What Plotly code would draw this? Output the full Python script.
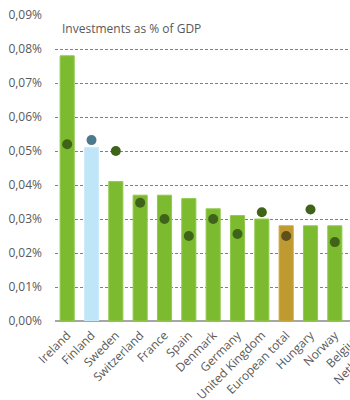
import plotly.graph_objects as go

categories = ["Ireland", "Finland", "Sweden", "Switzerland", "France", "Spain",
              "Denmark", "Germany", "United Kingdom", "European total", "Hungary",
              "Norway", "Belgium", "Netherlands", "Portugal"]
bar_values = [0.078, 0.051, 0.041, 0.037, 0.037, 0.036, 0.033, 0.031, 0.030,
              0.028, 0.028, 0.028, 0.028, 0.027, 0.026]
dot_values = [0.052, 0.0532, 0.050, 0.0348, 0.030, 0.025, 0.030, 0.0256, 0.032,
              0.025, 0.0328, 0.0232, 0.024, 0.022, 0.020]
y_ticks = [0.00, 0.01, 0.02, 0.03, 0.04, 0.05, 0.06, 0.07, 0.08, 0.09]
y_tick_labels = ["0,00%", "0,01%", "0,02%", "0,03%", "0,04%", "0,05%",
                 "0,06%", "0,07%", "0,08%", "0,09%"]
title_text = "Investments as % of GDP"

GREEN = "#7cba2f"
bar_colors = [GREEN] * len(categories)
bar_colors[1] = "#bfe6f8"
bar_colors[9] = "#bf9a30"
line_colors = ["#92c94f"] * len(categories)
line_colors[1] = "#cdebf9"
line_colors[9] = "#c9a845"
dot_colors = ["#3f6419"] * len(categories)
dot_colors[1] = "#4b7a8e"
dot_colors[9] = "#5e4f1d"

fig = go.Figure()
fig.add_trace(go.Bar(
    x=categories, y=bar_values,
    marker=dict(color=bar_colors, line=dict(color=line_colors, width=1)),
    hoverinfo="skip",
))
fig.add_trace(go.Scatter(
    x=categories, y=dot_values, mode="markers",
    marker=dict(color=dot_colors, size=10, line=dict(width=0)),
    hoverinfo="skip",
))

fig.add_annotation(
    text=title_text, xref="paper", yref="paper", x=0.013, y=0.955,
    xanchor="left", yanchor="middle", showarrow=False,
    font=dict(family="Open Sans", size=12, color="#595959"),
)

fig.update_layout(
    width=420, height=400,
    margin=dict(l=55, r=0, t=15, b=79),
    paper_bgcolor="white", plot_bgcolor="white",
    showlegend=False, bargap=0.42,
    font=dict(family="Open Sans", size=12, color="#595959"),
    hovermode=False,
)
fig.update_xaxes(
    tickangle=-45, showgrid=False, showline=False, ticks="",
    ticklabelstandoff=4, automargin=False,
    tickfont=dict(family="Open Sans", size=12, color="#595959"),
    range=[-0.5, len(categories) - 0.5],
)
fig.update_yaxes(
    range=[0, 0.09], tickmode="array", tickvals=y_ticks, ticktext=y_tick_labels,
    showgrid=True, gridcolor="#808080", griddash="3px,2px", gridwidth=1,
    zeroline=True, zerolinecolor="#a6a6a6", zerolinewidth=2,
    showline=False, ticks="", ticklabelstandoff=12, automargin=False,
    tickfont=dict(family="Open Sans", size=12, color="#595959"),
)

fig.write_html(
    "out.html",
    post_script="document.documentElement.style.overflow='hidden';document.body.style.overflow='hidden';",
)
